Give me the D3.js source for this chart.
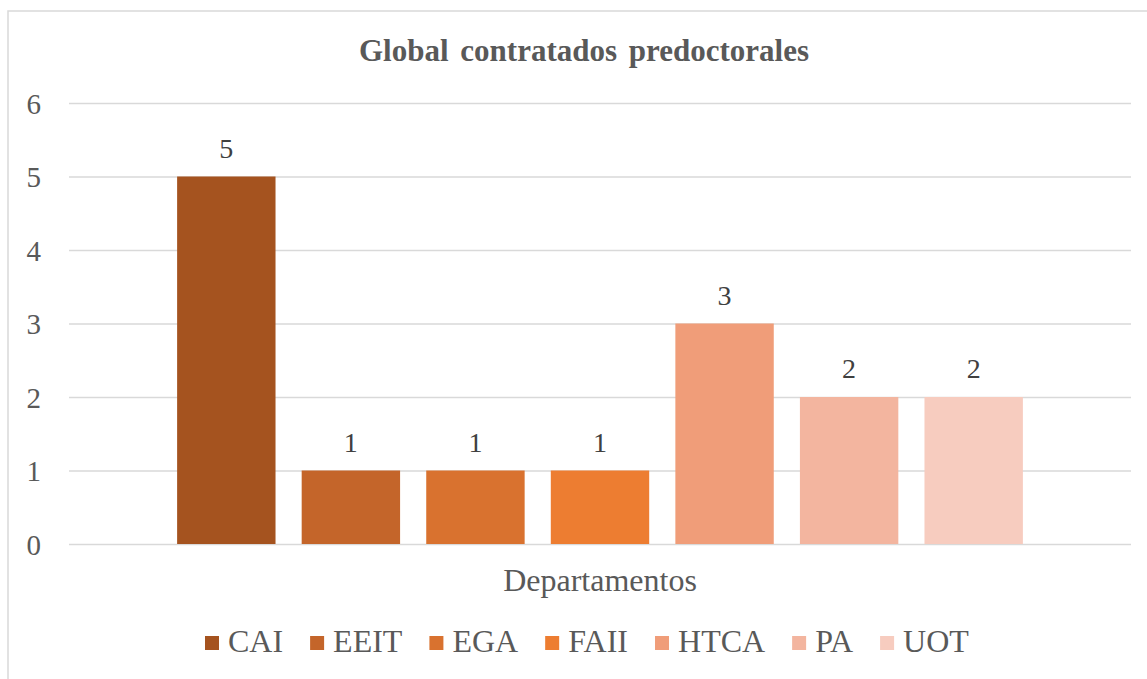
<!DOCTYPE html>
<html>
<head>
<meta charset="utf-8">
<script src="https://cdn.jsdelivr.net/npm/d3@7"></script>
<style>
  body { margin: 0; background: #fff; }
</style>
</head>
<body>
<div id="chart"></div>
<script>
// Data
const departamentos = ["CAI", "EEIT", "EGA", "FAII", "HTCA", "PA", "UOT"];
const contratados = [5, 1, 1, 1, 3, 2, 2];
const colores = ["#a5531f", "#c4652a", "#d9722f", "#ed7d31", "#f09d79", "#f3b59f", "#f7ccbf"];
const yTicks = [0, 1, 2, 3, 4, 5, 6];
const grupo = ["Departamentos"];

var serif = "'Liberation Serif'";

var width = 1147,
    height = 679,
    plotLeft = 69,
    plotRight = 1131,
    plotTop = 103,
    plotBottom = 544;

var svg = d3.select("#chart")
    .append("svg")
    .attr("width", width)
    .attr("height", height)
    .style("display", "block");

svg.append("rect")
    .attr("width", width)
    .attr("height", height)
    .attr("fill", "#fff");

// chart area frame (only top and left edges are inside the picture)
svg.append("path")
    .attr("d", "M8," + height + "V11H" + width)
    .attr("fill", "none")
    .attr("stroke", "#d9d9d9")
    .attr("stroke-width", 1.5);

// scales
var y = d3.scaleLinear()
    .domain([0, 6])
    .range([plotBottom, plotTop]);

var x0 = d3.scaleBand()
    .domain(grupo)
    .range([plotLeft, plotRight])
    .paddingInner(0)
    .paddingOuter(0.109);

var x1 = d3.scaleBand()
    .domain(departamentos)
    .range([0, x0.bandwidth()])
    .paddingInner(0.21)
    .paddingOuter(0.105);

var color = d3.scaleOrdinal()
    .domain(departamentos)
    .range(colores);

// y axis with gridlines
var yAxis = svg.append("g")
    .attr("transform", "translate(" + plotLeft + ",0)")
    .call(d3.axisLeft(y)
        .tickValues(yTicks)
        .tickFormat(d3.format("d"))
        .tickSizeInner(-(plotRight - plotLeft))
        .tickSizeOuter(0)
        .tickPadding(28));

yAxis.select(".domain").remove();
yAxis.selectAll(".tick line")
    .attr("stroke", "#d9d9d9")
    .attr("stroke-width", 1.5);
yAxis.selectAll(".tick text")
    .attr("fill", "#595959")
    .style("font-family", serif)
    .style("font-size", "29px")
    .attr("dy", "0.35em");

// bars
var g = svg.append("g")
    .attr("transform", "translate(" + x0("Departamentos") + ",0)");

g.selectAll("rect")
    .data(departamentos)
    .enter()
    .append("rect")
    .attr("x", function(d) { return x1(d); })
    .attr("y", function(d, i) { return y(contratados[i]); })
    .attr("width", x1.bandwidth())
    .attr("height", function(d, i) { return y(0) - y(contratados[i]); })
    .attr("fill", function(d) { return color(d); });

// data labels
g.selectAll("text.valor")
    .data(departamentos)
    .enter()
    .append("text")
    .attr("class", "valor")
    .attr("x", function(d) { return x1(d) + x1.bandwidth() / 2; })
    .attr("y", function(d, i) { return y(contratados[i]) - 19; })
    .attr("text-anchor", "middle")
    .attr("fill", "#404040")
    .style("font-family", serif)
    .style("font-size", "28px")
    .text(function(d, i) { return contratados[i]; });

// title
svg.append("text")
    .attr("x", 584)
    .attr("y", 61)
    .attr("text-anchor", "middle")
    .attr("fill", "#595959")
    .style("font-family", serif)
    .style("font-size", "31px")
    .style("font-weight", "bold")
    .style("word-spacing", "4px")
    .text("Global contratados predoctorales");

// x axis title (category label)
svg.append("text")
    .attr("x", x0("Departamentos") + x0.bandwidth() / 2)
    .attr("y", 591)
    .attr("text-anchor", "middle")
    .attr("fill", "#595959")
    .style("font-family", serif)
    .style("font-size", "32px")
    .text(grupo[0]);

// legend
var legend = svg.append("g");
var items = legend.selectAll("g")
    .data(departamentos)
    .enter()
    .append("g");

items.append("rect")
    .attr("width", 14)
    .attr("height", 14)
    .attr("y", 636)
    .attr("fill", function(d) { return color(d); });

items.append("text")
    .attr("x", 23)
    .attr("y", 652)
    .attr("fill", "#595959")
    .style("font-family", serif)
    .style("font-size", "32px")
    .text(function(d) { return d; });

// lay items out one after another, then center the row
var gap = 27;
var cursor = 0;
items.each(function() {
    var item = d3.select(this);
    item.attr("transform", "translate(" + cursor + ",0)");
    var w = item.select("text").node().getComputedTextLength();
    cursor += 23 + w + gap;
});
var total = cursor - gap;
legend.attr("transform", "translate(" + Math.round(587 - total / 2) + ",0)");
</script>
</body>
</html>
